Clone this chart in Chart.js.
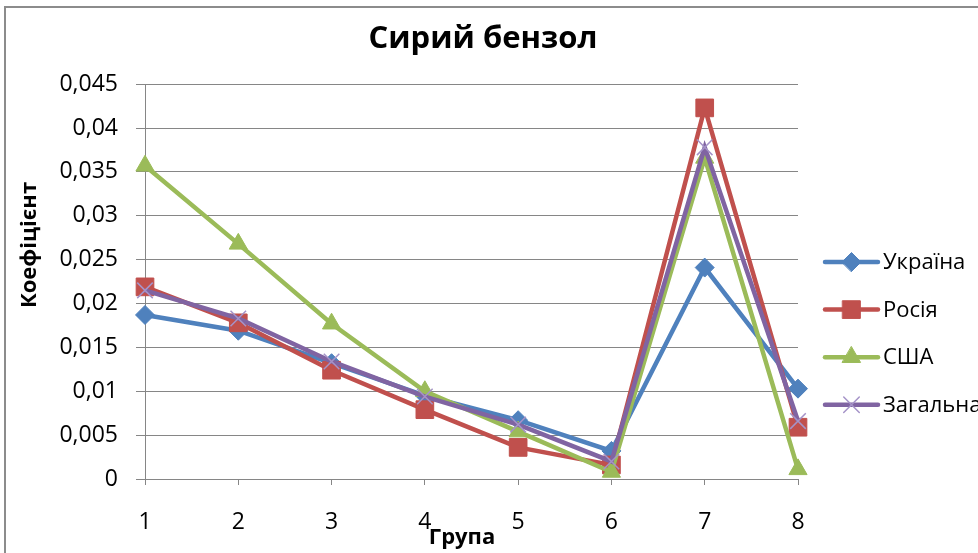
<!DOCTYPE html>
<html>
<head>
<meta charset="utf-8">
<script src="https://cdn.jsdelivr.net/npm/chart.js@4/dist/chart.umd.min.js"></script>
<style>
  html, body { margin: 0; padding: 0; background: #fff; overflow: hidden; }
  #wrap { position: absolute; left: 0; top: 0; width: 978px; height: 553px; }
  #frame { position: absolute; left: 4px; top: 6px; width: 1000px; height: 600px;
           border-left: 2px solid #8c8c8c; border-top: 2px solid #8c8c8c; box-sizing: border-box; }
  canvas { position: absolute; left: 0; top: 0; }
</style>
</head>
<body>
<div id="wrap">
  <div id="frame"></div>
  <canvas id="chart" width="978" height="553"></canvas>
</div>
<script>
// Groups on the horizontal axis
const groups = ['1', '2', '3', '4', '5', '6', '7', '8'];

// Coefficient per group for each country
const ukraine = [0.0187, 0.0169, 0.0132, 0.0095, 0.0067, 0.0032, 0.0241, 0.0103];
const russia  = [0.0219, 0.0178, 0.0124, 0.0079, 0.0036, 0.0016, 0.0423, 0.0059];
const usa     = [0.0357, 0.0268, 0.0177, 0.0100, 0.0054, 0.0008, 0.0366, 0.0011];
const overall = [0.0215, 0.0183, 0.0134, 0.0094, 0.0062, 0.0020, 0.0378, 0.0066];

// Series names, axis titles and value-axis tick labels
const seriesNames = ['Україна', 'Росія', 'США', 'Загальна'];
const xTitle = 'Група';
const yTitle = 'Коефіцієнт';
const yTickLabels = ['0', '0,005', '0,01', '0,015', '0,02', '0,025', '0,03', '0,035', '0,04', '0,045'];

const FONT = "'Open Sans', 'DejaVu Sans', sans-serif";

function series(label, data, color, style, radius, order, extra) {
  return Object.assign({
    label: label,
    data: data,
    borderColor: color,
    backgroundColor: color,
    borderWidth: 4.5,
    tension: 0,
    pointStyle: style,
    pointRadius: radius,
    pointHoverRadius: radius,
    pointBackgroundColor: color,
    pointBorderColor: color,
    pointBorderWidth: 1,
    order: order
  }, extra || {});
}

// Legend at the right: a short line with the series marker, then the name
const sideLegend = {
  id: 'sideLegend',
  afterDraw(chart) {
    const ctx = chart.ctx;
    const x0 = 825, x1 = 878, textX = 883, y0 = 262, step = 47.6;
    chart.data.datasets.forEach((ds, i) => {
      const y = y0 + i * step;
      ctx.save();
      ctx.strokeStyle = ds.borderColor;
      ctx.lineWidth = ds.borderWidth;
      ctx.lineCap = 'round';
      ctx.beginPath();
      ctx.moveTo(x0, y);
      ctx.lineTo(x1, y);
      ctx.stroke();
      ctx.fillStyle = ds.pointBackgroundColor;
      ctx.strokeStyle = ds.pointBorderColor;
      ctx.lineWidth = ds.pointBorderWidth;
      Chart.helpers.drawPoint(ctx, { pointStyle: ds.pointStyle, radius: ds.pointRadius, borderWidth: ds.pointBorderWidth, rotation: 0 }, (x0 + x1) / 2, y);
      ctx.fillStyle = '#000';
      ctx.font = '22px ' + FONT;
      ctx.textAlign = 'left';
      ctx.textBaseline = 'middle';
      ctx.fillText(ds.label, textX, y + 1);
      ctx.restore();
    });
  }
};

// Axis titles placed beside the axes
const axisTitles = {
  id: 'axisTitles',
  afterDraw(chart) {
    const ctx = chart.ctx;
    ctx.save();
    ctx.fillStyle = '#000';
    ctx.font = 'bold 22px ' + FONT;
    ctx.textAlign = 'center';
    ctx.textBaseline = 'middle';
    ctx.fillText(xTitle, 462, 538);
    ctx.translate(30, 245);
    ctx.rotate(-Math.PI / 2);
    ctx.fillText(yTitle, 0, 0);
    ctx.restore();
  }
};

new Chart(document.getElementById('chart'), {
  type: 'line',
  data: {
    labels: groups,
    datasets: [
      series(seriesNames[0], ukraine, '#4F81BD', 'rectRot', 9.5, 3),
      series(seriesNames[1], russia,  '#C0504D', 'rect', 12.5, 2),
      series(seriesNames[2], usa,     '#9BBB59', 'triangle', 10.5, 1),
      series(seriesNames[3], overall, '#8064A2', 'crossRot', 11, 0,
             { pointBorderColor: '#A593C8', pointBorderWidth: 1.5 })
    ]
  },
  options: {
    responsive: false,
    animation: false,
    events: [],
    layout: { padding: { left: 0, right: 12, top: 0, bottom: 0 } },
    plugins: {
      legend: { display: false },
      tooltip: { enabled: false },
      title: {
        display: true,
        text: 'Сирий бензол',
        color: '#000',
        font: { family: FONT, size: 31, weight: 'bold' },
        padding: { top: 21, bottom: 26 }
      }
    },
    scales: {
      x: {
        type: 'category',
        offset: false,
        grid: { display: true, drawOnChartArea: false, color: '#868686', tickLength: 6, tickColor: '#868686' },
        border: { display: true, color: '#868686', width: 1 },
        ticks: { color: '#000', font: { family: FONT, size: 23 }, padding: 24, maxRotation: 0 },
        afterFit(scale) { scale.height = 74; }
      },
      y: {
        min: 0,
        max: 0.045,
        ticks: {
          stepSize: 0.005,
          color: '#000',
          font: { family: FONT, size: 23 },
          padding: 18,
          callback: (v, i) => yTickLabels[i]
        },
        grid: { color: '#868686', tickLength: 9, lineWidth: 1 },
        border: { display: true, color: '#868686', width: 1 },
        afterFit(scale) { scale.width = 145; }
      },
      // empty right-hand axis that keeps room for the legend
      legendSpace: {
        type: 'linear',
        position: 'right',
        display: true,
        ticks: { display: false },
        grid: { display: false },
        border: { display: false },
        afterFit(scale) { scale.width = 168; }
      }
    }
  },
  plugins: [sideLegend, axisTitles]
});
</script>
</body>
</html>
